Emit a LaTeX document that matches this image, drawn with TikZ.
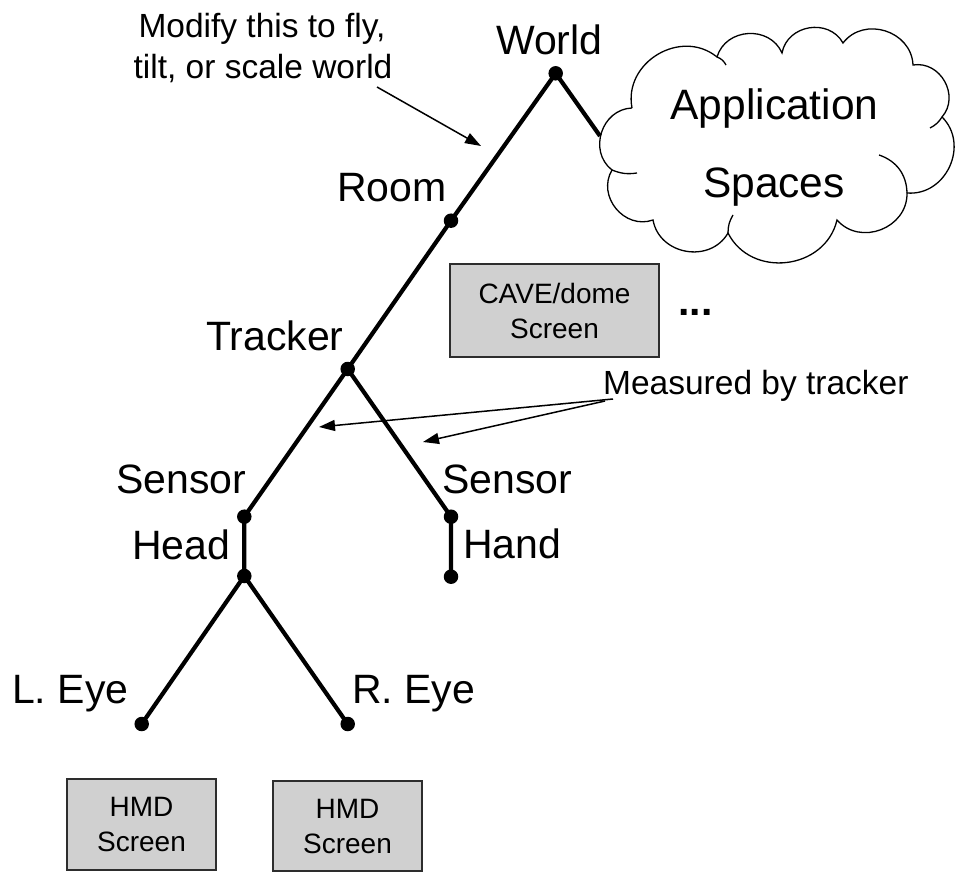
\documentclass[tikz,border=0pt]{standalone}
\usepackage{fontspec}
\setmainfont{Liberation Sans}
\usetikzlibrary{arrows.meta}
\definecolor{boxgray}{RGB}{208,208,208}
\definecolor{boxline}{RGB}{45,45,45}
\begin{document}
\begin{tikzpicture}[x=1pt,y=1pt,
  dot/.style={circle,fill=black,inner sep=0pt,minimum size=14.5pt},
  branch/.style={line width=4.2pt},
  lbl/.style={font=\fontsize{41}{49}\selectfont,inner sep=0pt,anchor=base west},
  cloudtxt/.style={font=\fontsize{42.5}{50}\selectfont,inner sep=0pt,anchor=base},
  note/.style={font=\fontsize{33.5}{41}\selectfont,inner sep=0pt},
  pointer/.style={line width=1.5pt,-{Triangle[length=16pt,width=11pt]}},
  screen/.style={draw=boxline,line width=1.8pt,fill=boxgray,align=center,
                 font=\fontsize{28}{35}\selectfont,inner sep=0pt},
  puff/.style={bend left=70,looseness=1.2},
  cloudline/.style={line width=1.3pt}
]
\useasboundingbox (0,0) rectangle (966,-885);

% tree nodes
\node[dot] (world)   at (555.7,-73.3) {};
\node[dot] (room)    at (451,-220.7) {};
\node[dot] (tracker) at (347.7,-369) {};
\node[dot] (sensorL) at (244.3,-516.7) {};
\node[dot] (head)    at (244.3,-576) {};
\node[dot] (sensorR) at (451,-516.7) {};
\node[dot] (hand)    at (451,-576.7) {};
\node[dot] (leye)    at (141.7,-724) {};
\node[dot] (reye)    at (347.7,-724) {};
\coordinate (cloudin) at (600,-136);

% branches
\draw[branch] (world.center) -- (room.center) -- (tracker.center);
\draw[branch] (world.center) -- (cloudin);
\draw[branch] (tracker.center) -- (sensorL.center) -- (head.center);
\draw[branch] (tracker.center) -- (sensorR.center) -- (hand.center);
\draw[branch] (head.center) -- (leye.center);
\draw[branch] (head.center) -- (reye.center);

% labels
\node[lbl] (tWorld)   at (496,-55)  {World};
\node[lbl] (tRoom)    at (337,-202) {Room};
\node[lbl] (tTracker) at (206,-350) {Tracker};
\node[lbl] (tSensorL) at (116,-493) {Sensor};
\node[lbl] (tHead)    at (132,-559) {Head};
\node[lbl] (tSensorR) at (442,-493) {Sensor};
\node[lbl] (tHand)    at (463,-558) {Hand};
\node[lbl] (tLeye)    at (12,-703)  {L. Eye};
\node[lbl] (tReye)    at (352,-703) {R. Eye};
\node[lbl,font=\fontsize{41}{49}\selectfont\bfseries] (tdots) at (678,-315) {...};

% cloud
\coordinate (c1) at (632,-108);
\coordinate (c2) at (717,-57);
\coordinate (c3) at (782,-53);
\coordinate (c4) at (843,-43);
\coordinate (c5) at (913,-65);
\coordinate (c6) at (942,-117);
\coordinate (c7) at (907,-193);
\coordinate (c8) at (837,-220);
\coordinate (c9) at (728,-233);
\coordinate (c10) at (653,-220);
\coordinate (c11) at (612,-170);
\draw[cloudline] (c1) to[puff] (c2) to[puff] (c3) to[puff] (c4) to[puff] (c5)
  to[puff] (c6) to[puff] (c7) to[puff] (c8) to[puff] (c9) to[puff] (c10)
  to[puff] (c11) to[puff] (c1);
% inner arc hints of the cloud
\draw[cloudline] (c2) to[bend left=20] (726,-65);
\draw[cloudline] (c7) to[bend right=35] (879,-155);
\draw[cloudline] (c11) to[bend right=15] (637,-173);
\draw[cloudline] (c6) to[bend left=15] (930,-128);
\draw[cloudline] (c9) to[bend left=15] (733,-215);
\node[cloudtxt] (tApp) at (774.5,-120) {Application};
\node[cloudtxt] (tSpa) at (774,-198) {Spaces};

% screens
\node[screen,minimum width=209pt,minimum height=93pt] (cave) at (554.5,-310.5) {CAVE/dome\\Screen};
\node[screen,minimum width=149pt,minimum height=91pt] (hmdL) at (141.5,-824.5) {HMD\\Screen};
\node[screen,minimum width=149pt,minimum height=90pt] (hmdR) at (347.5,-826) {HMD\\Screen};

% annotations
\node[note,anchor=base] (mod1) at (262,-38) {Modify this to fly,};
\node[note,anchor=base] (mod2) at (263,-79) {tilt, or scale world};
\coordinate (modfrom) at (377,-87);
\coordinate (modto) at (481,-146);
\draw[pointer] (modfrom) -- (modto);

\node[note,anchor=base west] (meas) at (603,-394) {Measured by tracker};
\coordinate (measfromA) at (613,-399);
\coordinate (measfromB) at (605,-401);
\coordinate (meastoA) at (319,-427);
\coordinate (meastoB) at (423,-442);
\draw[pointer] (measfromA) -- (meastoA);
\draw[pointer] (measfromB) -- (meastoB);
\end{tikzpicture}
\end{document}
